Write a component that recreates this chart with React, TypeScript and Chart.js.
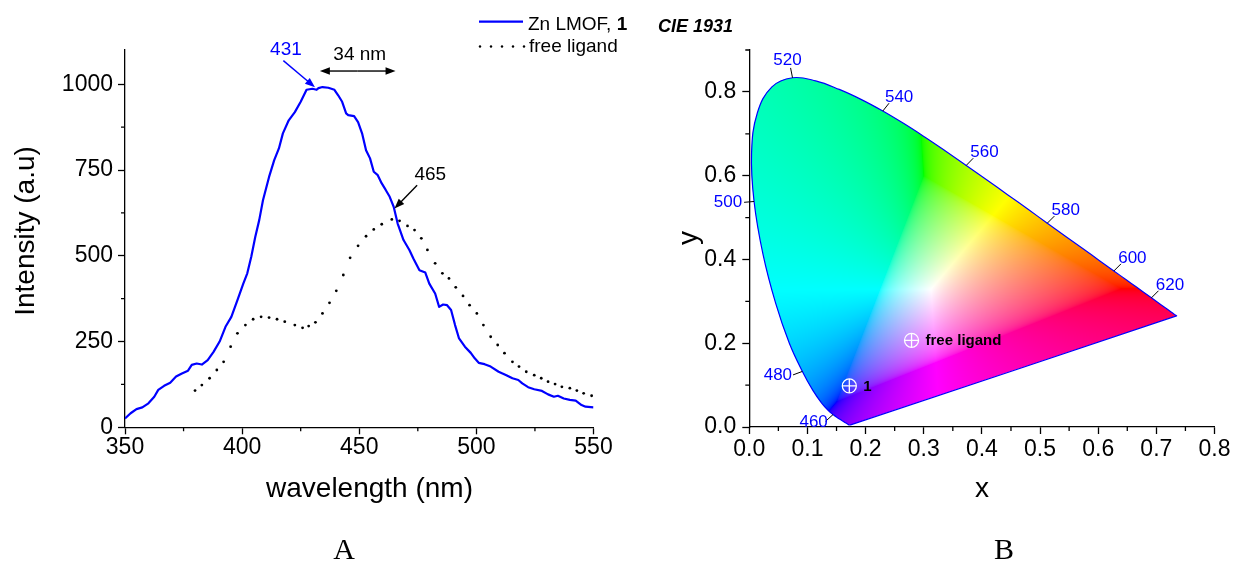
import React, { useEffect, useRef } from 'react';
import { Chart, registerables } from 'chart.js';

Chart.register(...registerables);

const W = 1233;
const H = 569;
const SANS = "'Liberation Sans', Arial, Helvetica, sans-serif";
const SERIF = "'Liberation Serif', 'Times New Roman', serif";
const BLUE = '#0000ff';

// ---------- Panel A : emission spectra ----------
const znWavelength = [350, 352.4, 354.9, 357.4, 360, 362.5, 364.2, 366.7, 369.3, 371.8, 374.3, 376.9, 378.5, 380.6, 382.8, 385.3, 387.8, 390.4, 392.9, 395.4, 398, 400.5, 402.2, 403.9, 405.6, 407.3, 408.9, 411.5, 413.7, 415.7, 417.4, 419.9, 422.5, 425, 427.5, 430, 431.8, 432.6, 434.3, 436.8, 439.4, 441, 442.7, 444.4, 445.3, 447.8, 449.5, 451.2, 452.9, 454.6, 456.2, 457.9, 459.6, 461.3, 463, 464.7, 466.4, 468.9, 471.4, 473.1, 475.7, 478.2, 479.9, 482.4, 484.1, 485.8, 487.5, 489.2, 490.9, 492.6, 495.1, 497.6, 499.3, 501, 503.5, 506.1, 509.5, 512.8, 515.4, 517.9, 519.6, 522.1, 524.7, 528, 530.6, 533.1, 534.8, 537.3, 539.9, 542.4, 544.9, 546.6, 550];
const znIntensity = [26, 41, 53, 58, 70, 89, 109, 121, 130, 148, 157, 165, 182, 186, 183, 196, 220, 250, 293, 322, 371, 419, 449, 497, 555, 604, 662, 730, 779, 813, 857, 895, 919, 949, 984, 987, 984, 989, 992, 990, 984, 968, 949, 915, 910, 907, 890, 857, 808, 784, 745, 735, 711, 692, 672, 643, 594, 546, 517, 492, 458, 451, 419, 390, 351, 358, 356, 342, 298, 259, 235, 217, 201, 188, 184, 177, 162, 152, 143, 138, 128, 117, 111, 106, 96, 89, 92, 84, 80, 78, 65, 60, 58];
const ligandWavelength = [379.9, 382.8, 386.1, 389.2, 392.1, 395.1, 398, 401.4, 404.7, 408.1, 411.5, 414.9, 418.2, 422.5, 425.8, 428.4, 431.3, 434.3, 437.3, 440.2, 443.2, 446.1, 449.5, 452.9, 456.2, 459.6, 463.9, 467.2, 470.6, 473.6, 476.5, 479.1, 482.4, 485.5, 488.3, 491.2, 494.3, 497.1, 500.2, 503, 506.1, 509.1, 512, 515.4, 518.2, 521.3, 524.7, 527.7, 530.6, 533.6, 536.5, 539.9, 542.9, 545.8, 549.2];
const ligandIntensity = [107, 123, 143, 167, 191, 235, 274, 298, 315, 322, 320, 315, 308, 298, 290, 295, 306, 332, 363, 398, 444, 494, 529, 557, 577, 592, 606, 602, 587, 575, 551, 517, 478, 449, 434, 408, 383, 356, 332, 298, 264, 240, 216, 191, 177, 162, 152, 143, 133, 126, 118, 114, 107, 99, 92];
const xTicksA = [350, 400, 450, 500, 550];
const xMinorA = [375, 425, 475, 525];
const yTicksA = [0, 250, 500, 750, 1000];
const yMinorA = [125, 375, 625, 875];

// ---------- Panel B : CIE 1931 ----------
const locusNm = [380, 400, 420, 430, 440, 450, 455, 460, 465, 470, 475, 480, 485, 490, 495, 500, 505, 510, 515, 520, 525, 530, 535, 540, 545, 550, 555, 560, 565, 570, 575, 580, 585, 590, 595, 600, 605, 610, 620, 630, 640, 650, 660, 680, 700];
const locusX = [0.1741, 0.1733, 0.1714, 0.1689, 0.1644, 0.1566, 0.1510, 0.1440, 0.1355, 0.1241, 0.1096, 0.0913, 0.0687, 0.0454, 0.0235, 0.0082, 0.0039, 0.0139, 0.0389, 0.0743, 0.1142, 0.1547, 0.1929, 0.2296, 0.2658, 0.3016, 0.3373, 0.3731, 0.4087, 0.4441, 0.4788, 0.5125, 0.5448, 0.5752, 0.6029, 0.6270, 0.6482, 0.6658, 0.6915, 0.7079, 0.7190, 0.7260, 0.7300, 0.7334, 0.7347];
const locusY = [0.0050, 0.0048, 0.0051, 0.0069, 0.0109, 0.0177, 0.0227, 0.0297, 0.0399, 0.0578, 0.0868, 0.1327, 0.2007, 0.2950, 0.4127, 0.5384, 0.6548, 0.7502, 0.8120, 0.8338, 0.8262, 0.8059, 0.7816, 0.7543, 0.7243, 0.6923, 0.6589, 0.6245, 0.5896, 0.5547, 0.5202, 0.4866, 0.4544, 0.4242, 0.3965, 0.3725, 0.3514, 0.3340, 0.3083, 0.2920, 0.2809, 0.2740, 0.2700, 0.2666, 0.2653];
const locusLabels = [460, 480, 500, 520, 540, 560, 580, 600, 620];
const pointNames = ['1', 'free ligand'];
const pointX = [0.172, 0.279];
const pointY = [0.098, 0.207];
const xTicksB = [0, 0.1, 0.2, 0.3, 0.4, 0.5, 0.6, 0.7, 0.8];
const xMinorB = [0.05, 0.15, 0.25, 0.35, 0.45, 0.55, 0.65, 0.75];
const yTicksB = [0, 0.2, 0.4, 0.6, 0.8];
const yMinorB = [0.1, 0.3, 0.5, 0.7, 0.9];

function makeAxis(o: any) {
  const { min, max, ticks, horizontal, fit, pad, fmt } = o;
  return {
    type: 'linear',
    min,
    max,
    afterBuildTicks: (s: any) => {
      s.ticks = ticks.map((v: number) => ({ value: v }));
    },
    afterFit: (s: any) => {
      if (horizontal) s.height = fit;
      else s.width = fit;
      s.paddingLeft = 0;
      s.paddingRight = 0;
      s.paddingTop = 0;
      s.paddingBottom = 0;
    },
    grid: { display: true, drawOnChartArea: false, drawTicks: true, tickLength: 7, tickColor: '#000', tickWidth: 1.3 },
    border: { display: true, color: '#000', width: 1.3 },
    ticks: {
      color: '#000',
      font: { family: SANS, size: 23 },
      padding: pad,
      autoSkip: false,
      maxRotation: 0,
      minRotation: 0,
      callback: (v: any) => fmt(v),
    },
    title: { display: false },
  };
}

function drawMinor(ctx: any, scale: any, values: number[], horizontal: boolean) {
  ctx.save();
  ctx.strokeStyle = '#000';
  ctx.lineWidth = 1.3;
  ctx.beginPath();
  for (const v of values) {
    const p = scale.getPixelForValue(v);
    if (horizontal) {
      ctx.moveTo(p, scale.top);
      ctx.lineTo(p, scale.top + 4);
    } else {
      ctx.moveTo(scale.right, p);
      ctx.lineTo(scale.right - 4, p);
    }
  }
  ctx.stroke();
  ctx.restore();
}

function arrow(ctx: any, x1: number, y1: number, x2: number, y2: number, color: string) {
  const head = 10;
  const half = 3.8;
  const a = Math.atan2(y2 - y1, x2 - x1);
  const c = Math.cos(a);
  const s = Math.sin(a);
  ctx.save();
  ctx.strokeStyle = color;
  ctx.fillStyle = color;
  ctx.lineWidth = 1.4;
  ctx.beginPath();
  ctx.moveTo(x1, y1);
  ctx.lineTo(x2 - c * head * 0.7, y2 - s * head * 0.7);
  ctx.stroke();
  ctx.beginPath();
  ctx.moveTo(x2, y2);
  ctx.lineTo(x2 - c * head - s * half, y2 - s * head + c * half);
  ctx.lineTo(x2 - c * head + s * half, y2 - s * head - c * half);
  ctx.closePath();
  ctx.fill();
  ctx.restore();
}

const panelAPlugin = {
  id: 'panelA',
  afterDraw(chart: any) {
    const ctx = chart.ctx;
    const xs = chart.scales.x;
    const ys = chart.scales.y;
    const X = (v: number) => xs.getPixelForValue(v);
    const Y = (v: number) => ys.getPixelForValue(v);
    drawMinor(ctx, xs, xMinorA, true);
    drawMinor(ctx, ys, yMinorA, false);

    ctx.save();
    ctx.fillStyle = '#000';
    ctx.font = `28px ${SANS}`;
    ctx.textAlign = 'center';
    ctx.textBaseline = 'alphabetic';
    ctx.fillText('wavelength (nm)', 369.5, 497);
    ctx.save();
    ctx.translate(33.6, 231);
    ctx.rotate(-Math.PI / 2);
    ctx.fillText('Intensity (a.u)', 0, 0);
    ctx.restore();

    // annotations
    ctx.font = `19px ${SANS}`;
    ctx.fillStyle = BLUE;
    ctx.fillText('431', X(418.7), Y(1084.5));
    arrow(ctx, X(417.6), Y(1069), X(431.1), Y(991.3), BLUE);
    ctx.fillStyle = '#000';
    ctx.fillText('34 nm', X(450.2), Y(1070));
    const mid = (X(433.2) + X(465.5)) / 2;
    arrow(ctx, mid, Y(1038.7), X(433.2), Y(1038.7), '#000');
    arrow(ctx, mid, Y(1038.7), X(465.5), Y(1038.7), '#000');
    ctx.fillText('465', X(480.3), Y(720.4));
    arrow(ctx, X(474.7), Y(705.8), X(465.05), Y(637.9), '#000');

    // legend
    ctx.strokeStyle = BLUE;
    ctx.lineWidth = 2.2;
    ctx.beginPath();
    ctx.moveTo(479, 21.7);
    ctx.lineTo(523, 21.7);
    ctx.stroke();
    ctx.textAlign = 'left';
    ctx.fillStyle = '#000';
    ctx.font = `19px ${SANS}`;
    const t1 = 'Zn LMOF, ';
    ctx.fillText(t1, 528, 29.5);
    const w1 = ctx.measureText(t1).width;
    ctx.font = `bold 19px ${SANS}`;
    ctx.fillText('1', 528 + w1, 29.5);
    for (let i = 0; i < 5; i++) {
      ctx.beginPath();
      ctx.arc(480 + i * 11, 46.5, 1.2, 0, Math.PI * 2);
      ctx.fill();
    }
    ctx.font = `19px ${SANS}`;
    ctx.fillText('free ligand', 529, 52);

    ctx.font = `30px ${SERIF}`;
    ctx.textAlign = 'center';
    ctx.fillText('A', 344, 559);
    ctx.restore();
  },
};

function xyToRGB(x: number, y: number) {
  const X = x / y;
  const Z = (1 - x - y) / y;
  let r = 3.2406 * X - 1.5372 - 0.4986 * Z;
  let g = -0.9689 * X + 1.8758 + 0.0415 * Z;
  let b = 0.0557 * X - 0.204 + 1.057 * Z;
  const m = Math.min(r, g, b);
  if (m < 0) {
    r -= m;
    g -= m;
    b -= m;
  }
  const mx = Math.max(r, g, b) || 1;
  const gam = (c: number) => {
    c = c / mx;
    const v = c <= 0.0031308 ? 12.92 * c : 1.055 * Math.pow(c, 1 / 2.4) - 0.055;
    return Math.max(0, Math.min(255, Math.round(v * 255)));
  };
  return [gam(r), gam(g), gam(b)];
}

const cieFillPlugin = {
  id: 'cieFill',
  beforeDatasetsDraw(chart: any) {
    const { ctx, chartArea } = chart;
    const xs = chart.scales.x;
    const ys = chart.scales.y;
    const left = Math.floor(chartArea.left);
    const top = Math.floor(chartArea.top);
    const w = Math.ceil(chartArea.right) - left;
    const h = Math.ceil(chartArea.bottom) - top;
    const off = document.createElement('canvas');
    off.width = w;
    off.height = h;
    const octx = off.getContext('2d') as CanvasRenderingContext2D;
    const img = octx.createImageData(w, h);
    const xv: number[] = [];
    for (let i = 0; i < w; i++) xv.push(xs.getValueForPixel(left + i + 0.5));
    for (let j = 0; j < h; j++) {
      const yv = Math.max(ys.getValueForPixel(top + j + 0.5), 0.002);
      for (let i = 0; i < w; i++) {
        const [r, g, b] = xyToRGB(Math.max(xv[i], 0.0005), yv);
        const k = (j * w + i) * 4;
        img.data[k] = r;
        img.data[k + 1] = g;
        img.data[k + 2] = b;
        img.data[k + 3] = 255;
      }
    }
    octx.putImageData(img, 0, 0);
    ctx.save();
    ctx.beginPath();
    const meta = chart.getDatasetMeta(0);
    let ok = false;
    try {
      meta.dataset.updateControlPoints(chartArea, 'x');
      meta.dataset.path(ctx);
      ok = true;
    } catch (e) {
      ok = false;
    }
    if (!ok) {
      ctx.beginPath();
      meta.data.forEach((p: any, i: number) => (i ? ctx.lineTo(p.x, p.y) : ctx.moveTo(p.x, p.y)));
    }
    ctx.closePath();
    ctx.clip();
    ctx.drawImage(off, left, top);
    ctx.restore();
  },
};

const panelBPlugin = {
  id: 'panelB',
  afterDraw(chart: any) {
    const ctx = chart.ctx;
    const xs = chart.scales.x;
    const ys = chart.scales.y;
    const X = (v: number) => xs.getPixelForValue(v);
    const Y = (v: number) => ys.getPixelForValue(v);
    drawMinor(ctx, xs, xMinorB, true);
    drawMinor(ctx, ys, yMinorB, false);
    const sx = Math.abs(X(1) - X(0));
    const sy = Math.abs(Y(1) - Y(0));
    const wx = X(0.3333);
    const wy = Y(0.3333);

    ctx.save();
    ctx.font = `17px ${SANS}`;
    ctx.textAlign = 'center';
    ctx.textBaseline = 'middle';
    for (const nm of locusLabels) {
      const i = locusNm.indexOf(nm);
      const j0 = Math.max(0, i - 1);
      const j1 = Math.min(locusNm.length - 1, i + 1);
      const px = X(locusX[i]);
      const py = Y(locusY[i]);
      const out = (vx: number, vy: number) => {
        const l = Math.hypot(vx, vy) || 1;
        vx /= l;
        vy /= l;
        if (vx * (px - wx) + vy * (py - wy) < 0) {
          vx = -vx;
          vy = -vy;
        }
        return [vx, vy];
      };
      const tpx = X(locusX[j1]) - X(locusX[j0]);
      const tpy = Y(locusY[j1]) - Y(locusY[j0]);
      const n1 = out(-tpy, tpx);
      const dtx = locusX[j1] - locusX[j0];
      const dty = locusY[j1] - locusY[j0];
      const n2 = out(-dty * sx, -dtx * sy);
      const n = out(n1[0] + n2[0], n1[1] + n2[1]);
      const ex = px + n[0] * 10;
      const ey = py + n[1] * 10;
      ctx.strokeStyle = '#000';
      ctx.lineWidth = 1;
      ctx.beginPath();
      ctx.moveTo(px, py);
      ctx.lineTo(ex, ey);
      ctx.stroke();
      const label = String(nm);
      const tw = ctx.measureText(label).width;
      ctx.fillStyle = BLUE;
      const dy = n[1] < 0 ? n[1] * 8 : n[1] * 1;
      ctx.fillText(label, ex + n[0] * (tw / 2 + 2), ey + dy);
    }

    ctx.fillStyle = '#000';
    ctx.font = `bold 15px ${SANS}`;
    ctx.textAlign = 'left';
    for (let i = 0; i < pointNames.length; i++) {
      ctx.fillText(pointNames[i], X(pointX[i]) + 14, Y(pointY[i]) + 1);
    }

    ctx.textBaseline = 'alphabetic';
    ctx.font = `italic bold 18px ${SANS}`;
    ctx.fillText('CIE 1931', 658, 32);

    ctx.font = `28px ${SANS}`;
    ctx.textAlign = 'center';
    ctx.fillText('x', 982, 497);
    ctx.save();
    ctx.translate(696.6, 238);
    ctx.rotate(-Math.PI / 2);
    ctx.fillText('y', 0, 0);
    ctx.restore();

    ctx.font = `30px ${SERIF}`;
    ctx.fillText('B', 1004, 559);
    ctx.restore();
  },
};

function configA(): any {
  return {
    type: 'line',
    data: {
      datasets: [
        {
          label: 'Zn LMOF, 1',
          data: znWavelength.map((x, i) => ({ x, y: znIntensity[i] })),
          borderColor: BLUE,
          borderWidth: 2.2,
          pointRadius: 0,
          tension: 0,
          fill: false,
          borderJoinStyle: 'round',
        },
        {
          label: 'free ligand',
          data: ligandWavelength.map((x, i) => ({ x, y: ligandIntensity[i] })),
          showLine: false,
          pointRadius: 1.4,
          pointBorderWidth: 0,
          pointBackgroundColor: '#000',
          borderColor: '#000',
        },
      ],
    },
    options: {
      responsive: false,
      maintainAspectRatio: false,
      animation: false,
      devicePixelRatio: 1,
      events: [],
      layout: { padding: { left: 0, top: 50, right: W - 593.5, bottom: 0 }, autoPadding: false },
      plugins: { legend: { display: false }, tooltip: { enabled: false } },
      scales: {
        x: makeAxis({ min: 350, max: 550, ticks: xTicksA, horizontal: true, fit: H - 427.3, pad: 0, fmt: (v: number) => String(v) }),
        y: makeAxis({ min: 0, max: 1100, ticks: yTicksA, horizontal: false, fit: 125, pad: 5, fmt: (v: number) => String(v) }),
      },
    },
    plugins: [panelAPlugin],
  };
}

function configB(): any {
  const locus = locusX.map((x, i) => ({ x, y: locusY[i] }));
  const pts = pointX.map((x, i) => ({ x, y: pointY[i] }));
  return {
    type: 'line',
    data: {
      datasets: [
        {
          label: 'locus',
          data: [...locus, locus[0]],
          borderColor: BLUE,
          borderWidth: 1.2,
          pointRadius: 0,
          tension: 0.4,
          fill: false,
        },
        {
          label: 'points',
          data: pts,
          showLine: false,
          pointStyle: 'circle',
          pointRadius: 7,
          pointBorderColor: '#ffffff',
          pointBackgroundColor: 'rgba(0,0,0,0)',
          pointBorderWidth: 1.3,
        },
        {
          label: 'points-cross',
          data: pts,
          showLine: false,
          pointStyle: 'cross',
          pointRadius: 7,
          pointBorderColor: '#ffffff',
          pointBorderWidth: 1.3,
        },
      ],
    },
    options: {
      responsive: false,
      maintainAspectRatio: false,
      animation: false,
      devicePixelRatio: 1,
      events: [],
      layout: { padding: { left: 749.3 - 60, top: 50, right: W - 1214.5, bottom: 0 }, autoPadding: false },
      plugins: { legend: { display: false }, tooltip: { enabled: false } },
      scales: {
        x: makeAxis({ min: 0, max: 0.8, ticks: xTicksB, horizontal: true, fit: H - 427, pad: 2, fmt: (v: number) => v.toFixed(1) }),
        y: makeAxis({ min: 0, max: 0.9, ticks: yTicksB, horizontal: false, fit: 60, pad: 6, fmt: (v: number) => v.toFixed(1) }),
      },
    },
    plugins: [cieFillPlugin, panelBPlugin],
  };
}

export default function App() {
  const refA = useRef<HTMLCanvasElement>(null);
  const refB = useRef<HTMLCanvasElement>(null);
  useEffect(() => {
    const a = new Chart(refA.current as HTMLCanvasElement, configA());
    const b = new Chart(refB.current as HTMLCanvasElement, configB());
    return () => {
      a.destroy();
      b.destroy();
    };
  }, []);
  const cs: any = { position: 'absolute', left: 0, top: 0, width: W, height: H };
  return (
    <div style={{ position: 'absolute', left: 0, top: 0, width: W, height: H, background: '#fff', overflow: 'hidden' }}>
      <canvas ref={refA} width={W} height={H} style={cs} />
      <canvas ref={refB} width={W} height={H} style={cs} />
    </div>
  );
}
